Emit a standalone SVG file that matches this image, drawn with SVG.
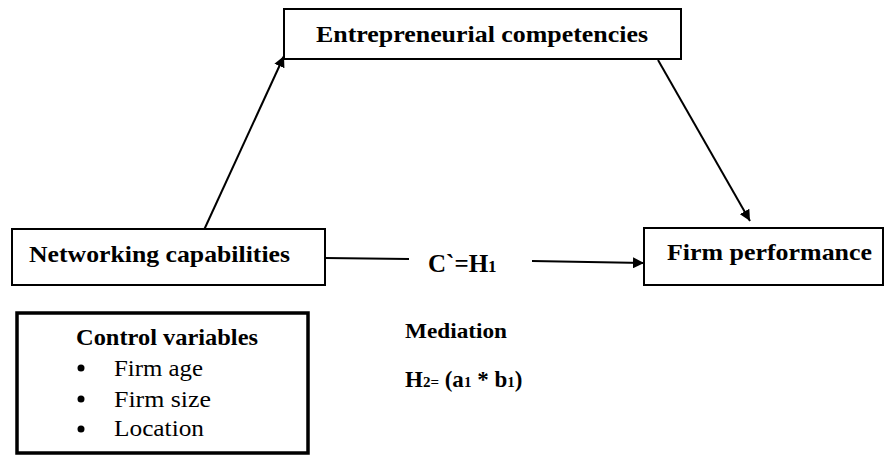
<svg xmlns="http://www.w3.org/2000/svg" width="893" height="466" viewBox="0 0 893 466">
<defs>
<marker id="ah" viewBox="0 0 10 10" refX="10" refY="5" markerWidth="11" markerHeight="11" markerUnits="userSpaceOnUse" orient="auto">
<path d="M0,0 L10,5 L0,10 z" fill="#000"/>
</marker>
<style>
.box{fill:#fff;stroke:#000;stroke-width:2}
.thick{fill:#fff;stroke:#000;stroke-width:3.5}
.b{font-family:'Liberation Serif','Tinos','Times New Roman','DejaVu Serif',serif;font-weight:bold;fill:#000}
.r{font-family:'Liberation Serif','Tinos','Times New Roman','DejaVu Serif',serif;fill:#000}
.ln{stroke:#000;stroke-width:2;fill:none}
</style>
</defs>
<rect width="893" height="466" fill="#fff"/>
<g id="connectors">
<line class="ln" x1="204" y1="230" x2="284" y2="56" marker-end="url(#ah)"/>
<line class="ln" x1="658" y1="60" x2="750" y2="221" marker-end="url(#ah)"/>
<line class="ln" x1="325" y1="258" x2="409" y2="259"/>
<line class="ln" x1="532" y1="261" x2="644" y2="263" marker-end="url(#ah)"/>
</g>
<g id="entrepreneurial">
<rect class="box" x="284" y="9" width="397" height="50"/>
<text class="b" x="316" y="42" font-size="23" textLength="332" lengthAdjust="spacingAndGlyphs">Entrepreneurial competencies</text>
</g>
<g id="networking">
<rect class="box" x="12" y="229" width="313" height="56"/>
<text class="b" x="29" y="262" font-size="23" textLength="261" lengthAdjust="spacingAndGlyphs">Networking capabilities</text>
</g>
<g id="performance">
<rect class="box" x="644" y="228" width="239" height="57"/>
<text class="b" x="667" y="260" font-size="23" textLength="205" lengthAdjust="spacingAndGlyphs">Firm performance</text>
</g>
<g id="c-label">
<text class="b" x="428" y="272" font-size="25">C`=H<tspan font-size="17">1</tspan></text>
</g>
<g id="control">
<rect class="thick" x="17" y="313" width="291" height="140"/>
<text class="b" x="76" y="345" font-size="23" textLength="182" lengthAdjust="spacingAndGlyphs">Control variables</text>
<circle cx="81" cy="368" r="3.5"/>
<circle cx="81" cy="399" r="3.5"/>
<circle cx="81" cy="429" r="3.5"/>
<text class="r" x="114" y="376" font-size="24" textLength="89" lengthAdjust="spacingAndGlyphs">Firm age</text>
<text class="r" x="114" y="407" font-size="24" textLength="97" lengthAdjust="spacingAndGlyphs">Firm size</text>
<text class="r" x="114" y="436" font-size="24" textLength="90" lengthAdjust="spacingAndGlyphs">Location</text>
</g>
<g id="mediation">
<text class="b" x="405" y="338" font-size="22" textLength="102" lengthAdjust="spacingAndGlyphs">Mediation</text>
<text class="b" x="405" y="387" font-size="23">H<tspan font-size="15">2=</tspan> (a<tspan font-size="15">1</tspan> * b<tspan font-size="15">1</tspan>)</text>
</g>
</svg>
